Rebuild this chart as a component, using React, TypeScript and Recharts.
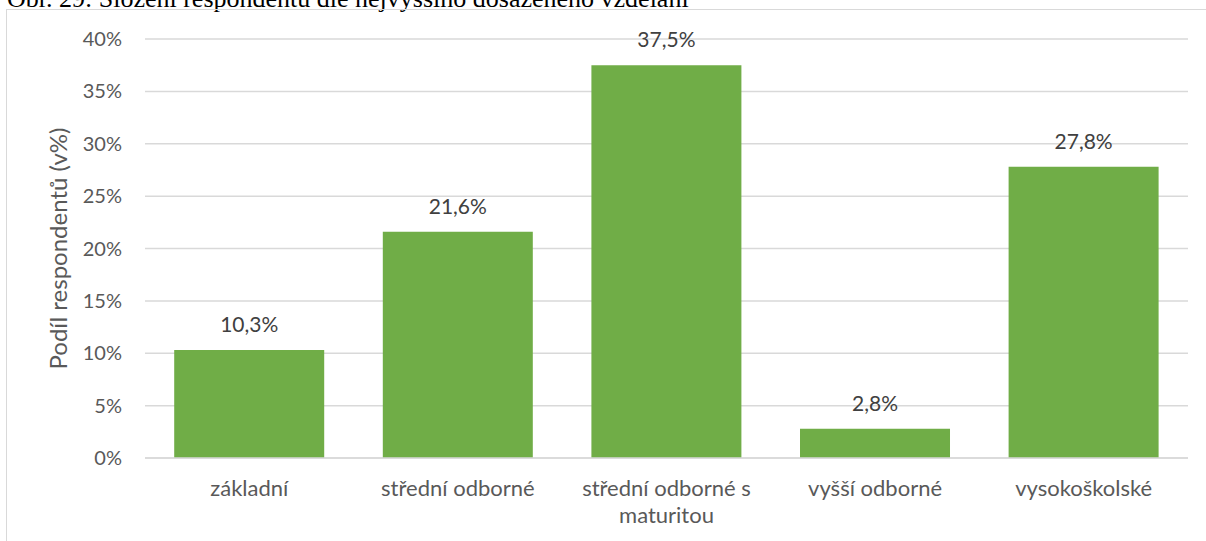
import { BarChart, Bar, XAxis, YAxis, CartesianGrid, LabelList, Text } from 'recharts';

const categories = ['základní', 'střední odborné', 'střední odborné s maturitou', 'vyšší odborné', 'vysokoškolské'];
const shares = [10.3, 21.6, 37.5, 2.8, 27.8];
const yTicks = [0, 5, 10, 15, 20, 25, 30, 35, 40];

const data = categories.map((name, i) => ({ name, value: shares[i] }));

const FONT = 'Lato, "Open Sans", sans-serif';

const formatPct = (v: number) => `${v.toFixed(1).replace('.', ',')}%`;

const CategoryTick = ({ x, y, payload }: any) => (
  <Text
    x={x}
    y={y}
    width={188}
    textAnchor="middle"
    verticalAnchor="start"
    lineHeight={27}
    fill="#595959"
    style={{ fontFamily: FONT, fontSize: 22 }}
  >
    {payload.value}
  </Text>
);

export default function App() {
  return (
    <div style={{ position: 'absolute', left: 0, top: 0, width: 1206, height: 541, overflow: 'hidden', background: '#fff' }}>
      <div
        style={{
          position: 'absolute',
          left: 7,
          top: -16,
          fontFamily: '"Liberation Serif", "Times New Roman", serif',
          fontSize: 26,
          color: '#000',
          whiteSpace: 'nowrap',
        }}
      >
        Obr. 29: Složení respondentů dle nejvyššího dosaženého vzdělání
      </div>
      <div
        style={{
          position: 'absolute',
          left: 6,
          top: 9,
          width: 1300,
          height: 600,
          border: '1px solid #d9d9d9',
        }}
      />
      <div style={{ position: 'absolute', left: 0, top: 0 }}>
        <BarChart
          width={1206}
          height={541}
          data={data}
          margin={{ top: 39, right: 18, bottom: 53, left: 53 }}
          barCategoryGap="14%"
        >
          <CartesianGrid vertical={false} stroke="#d9d9d9" strokeWidth={1.5} />
          <XAxis
            dataKey="name"
            tickLine={false}
            axisLine={{ stroke: '#d9d9d9', strokeWidth: 1.5 }}
            tick={<CategoryTick />}
            tickMargin={16}
            interval={0}
          />
          <YAxis
            width={92}
            domain={[0, 40]}
            ticks={yTicks}
            tickFormatter={(v: number) => `${v}%`}
            axisLine={false}
            tickLine={false}
            tickMargin={17}
            tick={{ fill: '#595959', fontSize: 20, fontFamily: FONT }}
            label={{
              value: 'Podíl respondentů (v%)',
              angle: -90,
              position: 'insideLeft',
              offset: 5,
              style: { textAnchor: 'middle', fill: '#595959', fontSize: 24, fontFamily: FONT },
            }}
          />
          <Bar dataKey="value" fill="#70AD47" isAnimationActive={false}>
            <LabelList
              dataKey="value"
              position="top"
              offset={18}
              formatter={(v: any) => formatPct(Number(v))}
              style={{ fill: '#404040', fontSize: 21, fontFamily: FONT }}
            />
          </Bar>
        </BarChart>
      </div>
    </div>
  );
}
